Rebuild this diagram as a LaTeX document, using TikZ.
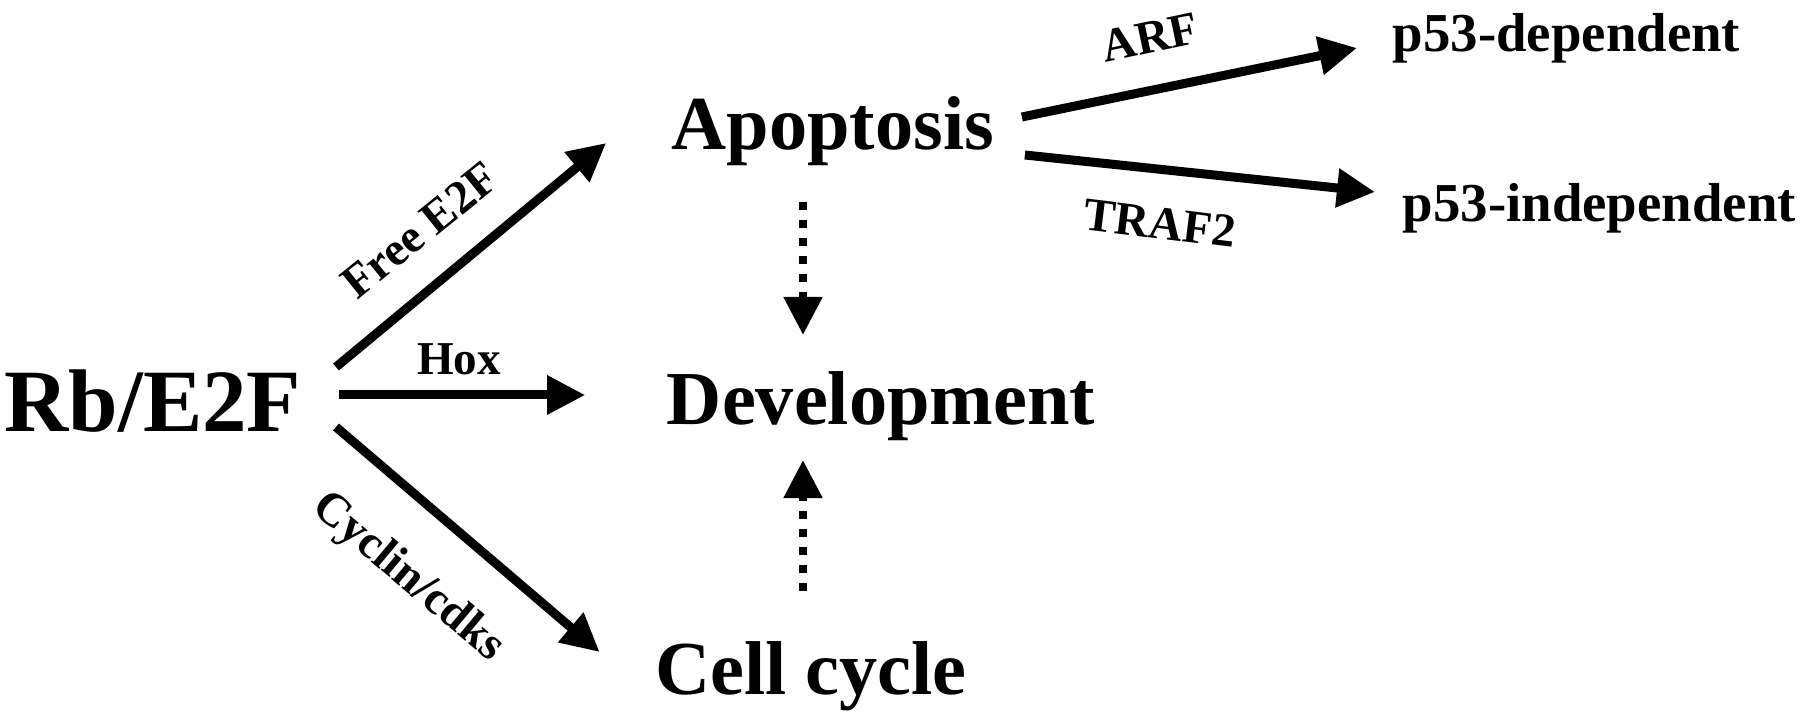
\documentclass[tikz,border=0pt]{standalone}
\usepackage{fontspec}
\setmainfont{Liberation Serif}
\usetikzlibrary{arrows.meta,calc}

\begin{document}
\begin{tikzpicture}[x=0.01cm, y=-0.01cm,
  hub/.style={inner sep=0pt, anchor=base, font=\bfseries\fontsize{25.3}{30}\selectfont},
  fate/.style={inner sep=0pt, anchor=base, font=\bfseries\fontsize{21.7}{26}\selectfont},
  route/.style={inner sep=0pt, anchor=base west, font=\bfseries\fontsize{15.6}{19}\selectfont},
  lbl/.style={inner sep=0pt, font=\bfseries\fontsize{13.4}{16}\selectfont},
  arr/.style={line width=0.09cm, -{Triangle[length=0.38cm, width=0.37cm]}},
  darr/.style={arr, line width=0.08cm, dash pattern=on 0.08cm off 0.1cm}]
% Canvas in pixels of the figure, y going down
\useasboundingbox (0,0) rectangle (1800,722);
% Main terms
\node[hub] (rb) at (153,432) {Rb/E2F};
\node[fate] (apo) at (833,150) {Apoptosis};
\node[fate] (dev) at (881,425) {Development};
\node[fate] (cyc) at (811,695) {Cell cycle};
\node[route] (pdep) at (1392,52) {p53-dependent};
\node[route] (pind) at (1402,222) {p53-independent};
% Edge labels
\node[lbl, rotate=39] (free) at (420,230) {Free E2F};
\node[lbl, anchor=base] (hox) at (459,375) {Hox};
\node[lbl, rotate=-40] (cdk) at (408,578) {Cyclin/cdks};
\node[lbl, rotate=12] (arf) at (1150,37) {ARF};
\node[lbl, rotate=-7] (traf) at (1160,223) {TRAF2};
% Solid arrows
\draw[arr] ($(rb.base east)+(34,-65)$) -- ($(apo.base west)+(-65,-7)$);
\draw[arr] ($(rb.base east)+(37,-37)$) -- ($(dev.base west)+(-81,-30)$);
\draw[arr] ($(rb.base east)+(34,-5)$) -- ($(cyc.base west)+(-55,-43)$);
\draw[arr] ($(apo.base east)+(27,-33)$) -- ($(pdep.base west)+(-35,-4)$);
\draw[arr] ($(apo.base east)+(30,5)$) -- ($(pind.base west)+(-27,-30)$);
% Dashed arrows into Development
\draw[darr] ($(dev.base)+(-78,-223)$) -- ($(dev.base)+(-78,-90)$);
\draw[darr] ($(dev.base)+(-78,166)$) -- ($(dev.base)+(-78,35)$);
\end{tikzpicture}
\end{document}
